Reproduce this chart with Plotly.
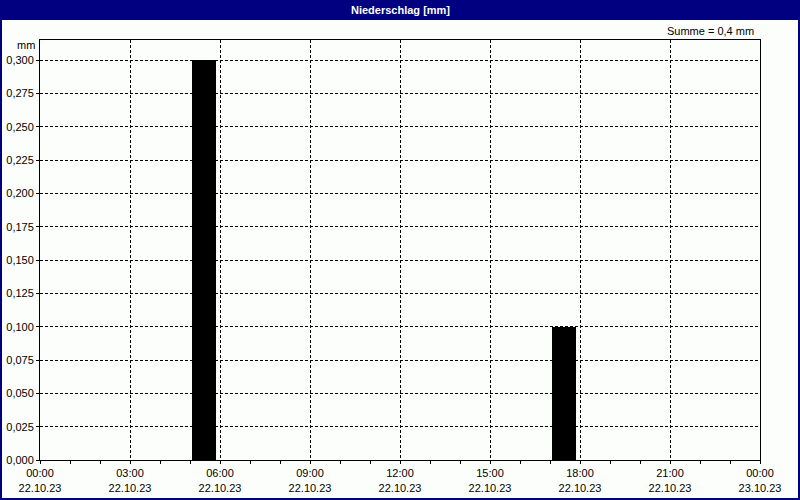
import plotly.graph_objects as go

# ---- data ----
hour_starts = [f"2023-10-22 {h:02d}:00" for h in range(24)]
precip_mm = [0.0, 0.0, 0.0, 0.0, 0.0, 0.3, 0.0, 0.0, 0.0, 0.0, 0.0, 0.0,
             0.0, 0.0, 0.0, 0.0, 0.0, 0.1, 0.0, 0.0, 0.0, 0.0, 0.0, 0.0]
tick_times = [f"2023-10-22 {h:02d}:00" for h in range(0, 24, 3)] + ["2023-10-23 00:00"]
tick_labels = [f"{h:02d}:00<br>22.10.23" for h in range(0, 24, 3)] + ["00:00<br>23.10.23"]
y_ticks = [i * 0.025 for i in range(13)]
title_text = "Niederschlag [mm]"
sum_text = "Summe = 0,4 mm"
unit_text = "mm"

W, H = 800, 500
L, R, T, B = 40, 40, 40, 40
PW, PH = W - L - R, H - T - B

def px(x):
    return (x - L) / PW

def py(y):
    return (H - B - y) / PH

HOUR_MS = 3600 * 1000
FONT = "Liberation Sans"

fig = go.Figure()
fig.add_trace(go.Bar(
    x=hour_starts, y=precip_mm,
    width=0.8 * HOUR_MS, offset=0.07 * HOUR_MS,
    marker=dict(color="#000000", line=dict(width=0)),
    hoverinfo="skip",
))

fig.update_layout(
    width=W, height=H,
    margin=dict(l=L, r=R, t=T, b=B, pad=0),
    paper_bgcolor="#FCFEFC", plot_bgcolor="#FCFEFC",
    separators=",.",
    showlegend=False,
    font=dict(family=FONT, size=11, color="#000000"),
    bargap=0,
    xaxis=dict(
        type="date", automargin=False,
        range=["2023-10-22 00:00", "2023-10-23 00:00"],
        tickmode="array", tickvals=tick_times, ticktext=tick_labels,
        ticks="outside", ticklen=3, tickcolor="#000000",
        showgrid=True, gridcolor="#000000", griddash="3px,2px", gridwidth=1,
        showline=True, linecolor="#000000", linewidth=1, mirror=True,
        zeroline=False,
        minor=dict(dtick=HOUR_MS, ticks="outside", ticklen=3, tickcolor="#000000", showgrid=False),
        tickfont=dict(family=FONT, size=11),
        fixedrange=True,
    ),
    yaxis=dict(
        automargin=False,
        range=[0, 0.315],
        tickmode="array", tickvals=y_ticks,
        tickformat=".3f",
        ticks="outside", ticklen=3, tickcolor="#000000",
        showgrid=True, gridcolor="#000000", griddash="3px,2px", gridwidth=1,
        showline=True, linecolor="#000000", linewidth=1, mirror=True,
        zeroline=False,
        tickfont=dict(family=FONT, size=11),
        fixedrange=True,
    ),
    shapes=[
        dict(type="rect", xref="paper", yref="paper",
             x0=px(0), x1=px(W), y0=py(20), y1=py(0),
             fillcolor="#000080", line=dict(width=0), layer="above"),
        dict(type="rect", xref="paper", yref="paper",
             x0=px(1), x1=px(W - 1), y0=py(H - 1), y1=py(1),
             fillcolor="rgba(0,0,0,0)", line=dict(color="#000080", width=2), layer="above"),
    ],
    annotations=[
        dict(text=f"<b>{title_text}</b>", xref="paper", yref="paper",
             x=px(W / 2), y=py(10), xanchor="center", yanchor="middle",
             showarrow=False, font=dict(family=FONT, size=11, color="#FFFFFF")),
        dict(text=sum_text, xref="paper", yref="paper",
             x=px(756), y=py(31), xanchor="right", yanchor="middle",
             showarrow=False, font=dict(family=FONT, size=11, color="#000000")),
        dict(text=unit_text, xref="paper", yref="paper",
             x=px(37), y=py(45), xanchor="right", yanchor="middle",
             showarrow=False, font=dict(family=FONT, size=11, color="#000000")),
    ],
)

fig.write_html("out.html", config={"displayModeBar": False},
               post_script="document.body.style.margin='0px';document.body.style.overflow='hidden';")
